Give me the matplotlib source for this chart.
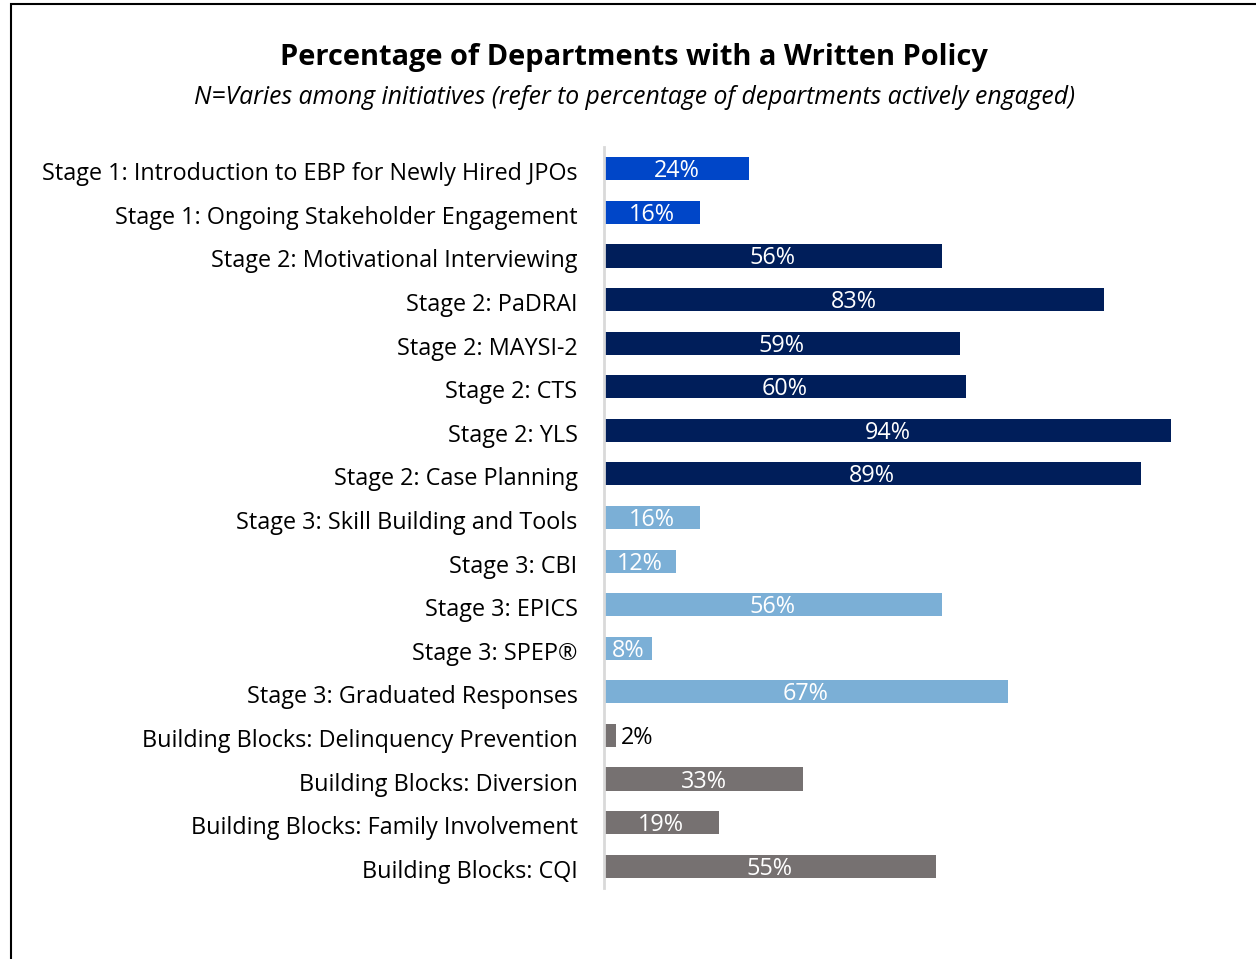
import matplotlib
matplotlib.use("Agg")
import matplotlib.pyplot as plt
from matplotlib.patches import Rectangle
from matplotlib.transforms import ScaledTranslation

categories = [
    "Stage 1: Introduction to EBP for Newly Hired JPOs",
    "Stage 1: Ongoing Stakeholder Engagement",
    "Stage 2: Motivational Interviewing",
    "Stage 2: PaDRAI",
    "Stage 2: MAYSI-2",
    "Stage 2: CTS",
    "Stage 2: YLS",
    "Stage 2: Case Planning",
    "Stage 3: Skill Building and Tools",
    "Stage 3: CBI",
    "Stage 3: EPICS",
    "Stage 3: SPEP\u00ae",
    "Stage 3: Graduated Responses",
    "Building Blocks: Delinquency Prevention",
    "Building Blocks: Diversion",
    "Building Blocks: Family Involvement",
    "Building Blocks: CQI",
]
values = [24, 16, 56, 83, 59, 60, 94, 89, 16, 12, 56, 8, 67, 2, 33, 19, 55]
groups = ["s1", "s1", "s2", "s2", "s2", "s2", "s2", "s2",
          "s3", "s3", "s3", "s3", "s3", "bb", "bb", "bb", "bb"]
group_colors = {"s1": "#0046C8", "s2": "#001E5A", "s3": "#7BAFD6", "bb": "#767171"}

title = "Percentage of Departments with a Written Policy"
subtitle = "N=Varies among initiatives (refer to percentage of departments actively engaged)"

plt.rcParams['font.family'] = ['Open Sans', 'DejaVu Sans']

fig = plt.figure(figsize=(12.56, 9.59), dpi=100)
W, H = 1256, 959

# outer frame
fig.patches.append(Rectangle((11 / W, -0.1), 1.2, 1 - 4 / H + 0.1, transform=fig.transFigure,
                             fill=False, edgecolor="black", linewidth=1.5))

ax = fig.add_axes([604 / W, 1 - 888 / H, 603 / W, (888 - 147) / H])
y = list(range(len(categories)))
colors = [group_colors[g] for g in groups]
ax.barh(y, values, height=0.53, color=colors, left=0)
ax.set_xlim(0, 100)
ax.set_ylim(len(categories) - 0.5, -0.5)
ax.set_yticks(y)
ax.set_yticklabels(categories, fontsize=16.8, color="black")
ax.tick_params(axis='y', length=0, pad=19)
ax.set_xticks([])
for s in ["top", "right", "bottom"]:
    ax.spines[s].set_visible(False)
ax.spines["left"].set_color("#D9D9D9")
ax.spines["left"].set_linewidth(2)

shift = ScaledTranslation(0, -2.5 / 100, fig.dpi_scale_trans)
for lab in ax.get_yticklabels():
    lab.set_transform(lab.get_transform() + shift)

for yi, v in zip(y, values):
    label = f"{v}%"
    if v < 5:
        ax.text(v + 0.8, yi, label, va="center", ha="left", fontsize=16.8, color="black",
                transform=ax.transData + shift)
    else:
        ax.text(v / 2, yi, label, va="center", ha="center", fontsize=16.8, color="white",
                transform=ax.transData + shift)

fig.text(634 / W, 1 - 57 / H, title, ha="center", va="center", fontsize=20.9, fontweight="bold")
fig.text(634 / W, 1 - 97 / H, subtitle, ha="center", va="center", fontsize=17.8, style="italic")

fig.savefig("out.png", dpi=100)
